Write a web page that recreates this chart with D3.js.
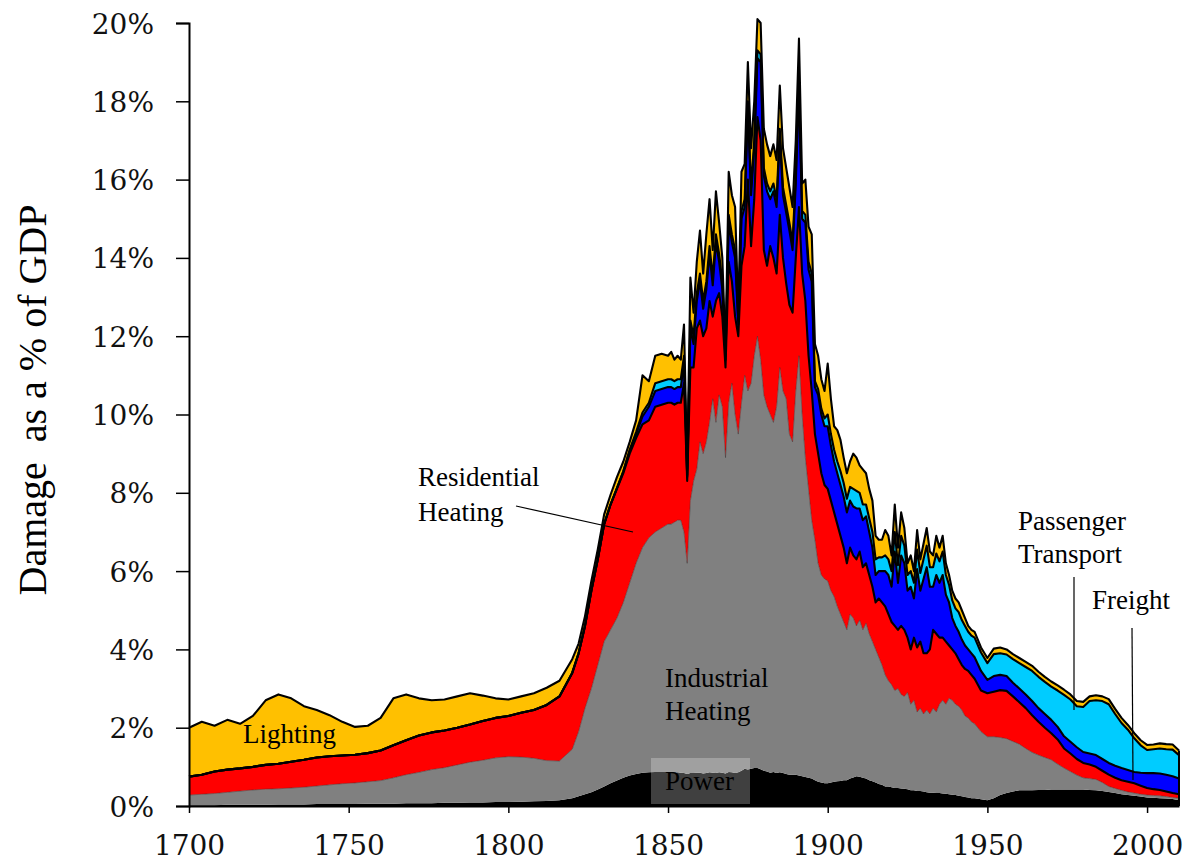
<!DOCTYPE html>
<html>
<head>
<meta charset="utf-8">
<script src="https://cdn.jsdelivr.net/npm/d3@7"></script>
<style>
  body { margin: 0; background: #fff; }
</style>
</head>
<body>
<svg id="chart" width="1188" height="863"></svg>
<script>
// years (coarser where the curve is smooth)
const years = [
  1700,1704,1708,1712,1716,1720,1724,1728,1732,1736,1740,1744,1748,1752,1756,1760,
  1764,1768,1772,1776,1780,1784,1788,1792,1796,1800,1804,1808,1812,1816,1820,
  1822,1824,1826,1828,1830,1832,1834,1836,1838,1840,1842,1844,1846,1848,
  1850,1851,1852,1853,1854,1855,1856,1857,1858,1859,
  1860,1861,1862,1863,1864,1865,1866,1867,1868,1869,
  1870,1871,1872,1873,1874,1875,1876,1877,1878,1879,
  1880,1881,1882,1883,1884,1885,1886,1887,1888,1889,
  1890,1891,1892,1893,1894,1895,1896,1897,1898,1899,
  1900,1901,1902,1903,1904,1905,1906,1907,1908,1909,
  1910,1911,1912,1913,1914,1915,1916,1917,1918,1919,
  1920,1921,1922,1923,1924,1925,1926,1927,1928,1929,
  1930,1931,1932,1933,1934,1935,1936,1937,1938,1939,
  1940,1941,1942,1943,1944,1945,
  1946,1948,1950,1952,1954,1956,1958,1960,1962,1964,1966,1968,1970,1972,1974,1976,
  1978,1980,1982,1984,1986,1988,1990,1992,1994,1996,1998,2000,2002,2004,2006,2008,2010
];

// damage by sector, % of GDP
const power = [
  .02,.02,.02,.03,.03,.03,.03,.04,.04,.04,.05,.05,.05,.05,.06,.06,
  .06,.07,.07,.07,.08,.08,.09,.09,.10,.10,.11,.12,.13,.15,.20,
  .25,.30,.35,.42,.50,.58,.65,.72,.78,.82,.85,.86,.87,.87,
  .87,.86,.85,.86,.85,.84,.82,.84,.84,.85,
  .85,.83,.84,.86,.85,.84,.86,.85,.83,.87,
  .86,.84,.86,.90,.95,.93,.95,.97,.97,.94,
  .90,.88,.85,.87,.84,.86,.84,.82,.80,.80,
  .80,.78,.76,.74,.72,.70,.66,.62,.60,.58,
  .58,.60,.62,.63,.64,.66,.66,.70,.73,.76,
  .75,.72,.70,.66,.63,.60,.56,.54,.50,.50,
  .48,.46,.46,.45,.44,.43,.40,.40,.38,.38,
  .37,.35,.34,.34,.33,.33,.32,.31,.30,.29,
  .28,.26,.25,.23,.22,.20,
  .20,.17,.15,.20,.28,.33,.37,.40,.40,.40,.41,.41,.42,.42,.42,.42,
  .42,.42,.41,.40,.38,.36,.33,.30,.28,.26,.24,.22,.21,.20,.19,.18,.15
];
const industrial = [
  .26,.28,.30,.32,.35,.38,.40,.40,.42,.44,.46,.49,.52,.54,.56,.59,
  .66,.73,.79,.86,.90,.97,1.03,1.08,1.13,1.16,1.14,1.10,1.03,1.00,1.25,
  1.65,2.20,2.65,3.18,3.70,3.92,4.15,4.48,4.92,5.38,5.75,5.99,6.13,6.23,
  6.33,6.34,6.40,6.44,6.45,6.16,5.38,6.96,7.46,7.75,
  8.45,8.17,8.46,8.94,9.55,8.96,9.64,9.35,8.07,9.43,
  9.94,9.16,8.64,9.40,10.05,9.67,9.85,10.53,11.03,10.46,
  9.60,9.32,9.15,8.93,9.36,10.34,9.76,9.58,8.70,8.50,
  9.80,10.72,9.24,8.16,7.38,6.60,6.14,5.58,5.30,5.22,
  5.17,4.90,4.73,4.47,4.26,4.04,3.84,4.20,4.07,3.84,
  4.00,3.78,3.97,3.74,3.57,3.40,3.24,3.06,2.85,2.70,
  2.62,2.49,2.54,2.40,2.36,2.47,2.20,2.30,2.02,2.12,
  1.98,2.10,2.01,2.16,2.07,2.27,2.38,2.29,2.45,2.41,
  2.32,2.29,2.20,2.07,2.03,1.95,
  1.90,1.73,1.62,1.57,1.47,1.39,1.28,1.18,1.07,.97,.89,.83,.76,.65,.55,.46,
  .37,.30,.29,.28,.22,.14,.12,.10,.08,.07,.06,.06,.06,.06,.05,.04,.05
];
const residential = [
  .47,.50,.56,.58,.58,.59,.62,.64,.67,.70,.73,.73,.72,.72,.73,.77,
  .83,.88,.94,.95,.95,.95,.96,1.00,1.02,1.04,1.13,1.23,1.42,1.65,1.95,
  2.0,2.1,2.5,2.7,3.0,3.2,3.3,3.3,3.3,3.2,3.15,3.0,3.2,3.15,
  3.1,3.1,3.0,3.0,3.0,3.8,2.1,3.4,2.9,3.6,
  3.1,3.0,2.9,3.1,2.1,3.1,2.6,2.3,2.3,3.6,
  2.6,2.5,2.5,3.5,3.3,5.4,3.5,4.0,5.6,5.6,
  3.7,3.6,4.3,4.2,3.4,3.9,3.4,2.95,3.3,3.3,
  3.4,3.8,3.6,4.0,3.4,3.3,2.7,2.8,2.6,2.4,
  2.35,2.3,2.15,2.1,2.0,1.9,1.7,1.7,1.6,1.7,
  1.75,1.6,1.53,1.5,1.4,1.2,1.5,1.6,1.75,1.7,
  1.6,1.65,1.5,1.75,1.7,1.4,1.4,1.6,1.65,1.7,
  1.55,1.45,1.65,2.0,2.0,1.7,1.6,1.6,1.35,1.3,
  1.3,1.2,1.15,1.2,1.2,1.2,
  1.15,1.05,1.11,1.15,1.21,1.22,1.15,1.07,1.03,.95,.85,.76,.68,.63,.50,.46,
  .41,.38,.36,.32,.30,.30,.27,.26,.26,.25,.22,.18,.16,.15,.13,.11,.10
];
const freight = [
  0,0,0,0,0,0,0,0,0,0,0,0,0,0,0,0,
  0,0,0,0,0,0,0,0,0,0,0,0,0,0,0,
  0,0,0,0,0,0,.02,.05,.08,.1,.2,.35,.4,.4,
  .4,.4,.4,.4,.4,.5,.1,1.0,.6,.7,
  1.0,.7,1.0,1.2,.8,1.5,.8,.7,.2,1.0,
  1.0,1.5,.3,1.2,1.0,1.8,1.3,1.3,1.5,2.0,
  1.9,1.9,1.2,1.7,1.7,2.0,1.6,1.8,1.9,1.6,
  1.9,3.0,1.4,2.0,2.2,2.8,1.2,1.5,1.5,1.5,
  1.6,1.4,1.3,1.3,1.3,1.3,1.3,1.2,1.25,1.3,
  1.1,1.2,1.2,1.1,1.0,.7,.7,.8,.9,1.0,
  .9,1.9,1.2,1.8,1.7,1.2,1.6,1.0,2.0,1.3,
  1.9,2.2,1.6,1.1,1.5,1.4,1.6,1.2,1.1,.8,
  .7,.7,.65,.6,.55,.55,
  .55,.5,.34,.4,.39,.38,.35,.35,.35,.36,.35,.35,.34,.32,.31,.3,
  .3,.28,.28,.3,.3,.3,.31,.31,.3,.29,.33,.38,.41,.42,.43,.43,.4
];
const passenger = [
  0,0,0,0,0,0,0,0,0,0,0,0,0,0,0,0,
  0,0,0,0,0,0,0,0,0,0,0,0,0,0,0,
  0,0,0,0,0,0,0,0,.02,.05,.1,.1,.2,.2,
  .2,.2,.2,.2,.2,.2,.05,.2,.2,.2,
  .2,.2,.2,.2,.2,.2,.2,.2,.1,.2,
  .2,.2,.1,.2,.2,.2,.2,.2,.2,.2,
  .2,.2,.2,.2,.2,.2,.2,.2,.2,.2,
  .2,.3,.2,.2,.2,.2,.15,.15,.15,.2,
  .3,.3,.3,.3,.35,.35,.35,.35,.45,.45,
  .4,.4,.3,.35,.4,.4,.35,.35,.4,.4,
  .4,.5,.45,.5,.45,.4,.4,.4,.5,.45,
  .5,.55,.5,.5,.55,.55,.6,.5,.45,.45,
  .45,.5,.5,.5,.45,.45,
  .5,.47,.43,.56,.55,.55,.6,.65,.7,.77,.8,.82,.85,.93,1.06,1.08,
  1.05,1.15,1.34,1.4,1.48,1.5,1.32,1.15,1.03,.86,.7,.59,.61,.64,.65,.68,.6
];
const lighting = [
  1.25,1.35,1.17,1.27,1.14,1.30,1.65,1.77,1.62,1.37,1.21,1.05,.86,.71,.70,.83,
  1.20,1.17,.95,.82,.79,.80,.80,.65,.50,.42,.42,.43,.44,.40,.35,
  .25,.25,.25,.25,.25,.25,.28,.25,.2,.3,.95,.55,.7,.7,
  .6,.7,.55,.6,.5,.8,.15,1.1,.6,.8,
  1.1,.7,1.2,1.2,.7,1.1,.8,.6,.1,1.1,
  1.0,1.1,.2,1.0,.9,1.0,1.0,1.0,.8,.8,
  1.0,1.0,.9,1.0,1.0,1.1,1.0,.95,.9,.9,
  .9,1.0,.7,.9,.9,1.0,.95,.85,.75,.7,
  1.3,.9,.6,.8,.8,.65,.65,.65,.9,.85,
  .7,.9,.8,.75,.8,.6,.45,.45,.65,.6,
  .4,.7,.45,.6,.45,.3,.4,.3,.5,.35,
  .4,.45,.4,.3,.45,.35,.4,.3,.25,.25,
  .25,.25,.25,.2,.15,.15,
  .15,.13,.13,.14,.15,.13,.13,.13,.13,.13,.13,.13,.13,.13,.13,.13,
  .13,.13,.12,.13,.12,.13,.13,.13,.12,.13,.13,.13,.12,.13,.13,.13,.12
];

const sectors = ["Power", "Industrial Heating", "Residential Heating", "Freight", "Passenger Transport", "Lighting"];
const colors = ["#000000", "#808080", "#ff0000", "#0000ff", "#00ccff", "#ffc000"];
const yTicks = [0, 2, 4, 6, 8, 10, 12, 14, 16, 18, 20];
const xTicks = [1700, 1750, 1800, 1850, 1900, 1950, 2000];

const serif = "'Liberation Serif', 'Times New Roman', Times, serif";

const svg = d3.select("#chart");

const x = d3.scaleLinear().domain([1700, 2010]).range([189, 1179]);
const y = d3.scaleLinear().domain([0, 20]).range([806, 23]);

const series = [power, industrial, residential, freight, passenger, lighting];
const rows = years.map(function(yr, i) {
  const r = {year: yr};
  sectors.forEach(function(s, k) { r[s] = series[k][i]; });
  return r;
});

const stacked = d3.stack().keys(sectors)(rows);

const area = d3.area()
  .x(function(d) { return x(d.data.year); })
  .y0(function(d) { return y(d[0]); })
  .y1(function(d) { return y(d[1]); });

const topLine = d3.line()
  .x(function(d) { return x(d.data.year); })
  .y(function(d) { return y(d[1]); });

svg.append("g")
  .selectAll("path")
  .data(stacked)
  .enter()
  .append("path")
  .attr("d", area)
  .attr("fill", function(d, i) { return colors[i]; });

// outlines on the upper edge of each band
svg.append("g")
  .selectAll("path")
  .data(stacked.slice(1))
  .enter()
  .append("path")
  .attr("d", topLine)
  .attr("fill", "none")
  .attr("stroke", function(d, i) { return i === 0 ? "#333" : "#000"; })
  .attr("stroke-opacity", function(d, i) { return i === 0 ? 0.5 : 1; })
  .attr("stroke-width", function(d, i) { return i === 0 ? 1 : 2.1; })
  .attr("stroke-linejoin", "round");

// closing edge at the right end of the stack
const last = stacked[stacked.length - 1][years.length - 1];
svg.append("line")
  .attr("x1", x(2010)).attr("x2", x(2010))
  .attr("y1", y(0)).attr("y2", y(last[1]))
  .attr("stroke", "#000").attr("stroke-width", 2);

// axes
const yAxis = svg.append("g")
  .attr("transform", "translate(189,0)")
  .call(d3.axisLeft(y).tickValues(yTicks).tickFormat(function(d) { return d + "%"; })
    .tickSize(13).tickPadding(22));

const xAxis = svg.append("g")
  .attr("transform", "translate(0,806)")
  .call(d3.axisBottom(x).tickValues(xTicks).tickFormat(d3.format("d"))
    .tickSize(7).tickSizeOuter(0));

[yAxis, xAxis].forEach(function(g) {
  g.select(".domain").attr("stroke", "#000").attr("stroke-width", 2);
  g.selectAll(".tick line").attr("stroke", "#000").attr("stroke-width", 1.5);
  g.selectAll(".tick text")
    .style("font-family", "'DejaVu Serif', serif")
    .style("font-size", "28px")
    .attr("fill", "#111");
});
yAxis.selectAll(".tick text").attr("dy", "0.36em");
xAxis.selectAll(".tick text").attr("y", 49).attr("dy", 0);

svg.append("text")
  .attr("transform", "translate(46,400) rotate(-90)")
  .attr("text-anchor", "middle")
  .style("font-family", serif)
  .style("font-size", "40px")
  .attr("xml:space", "preserve")
  .text("Damage  as a % of GDP");

// annotations
const notes = svg.append("g");

function note(tx, ty, label) {
  notes.append("text").attr("x", tx).attr("y", ty)
    .style("font-family", serif).style("font-size", "27px")
    .attr("fill", "#000").text(label);
}
function pointer(x1, y1, x2, y2) {
  notes.append("line").attr("x1", x1).attr("y1", y1).attr("x2", x2).attr("y2", y2)
    .attr("stroke", "#000").attr("stroke-width", 1.2);
}

note(243, 743, "Lighting");
note(418, 486, "Residential");
note(418, 521, "Heating");
pointer(516, 506, 633, 532);

note(665, 687, "Industrial");
note(665, 720, "Heating");

notes.append("rect").attr("x", 651).attr("y", 758).attr("width", 99).attr("height", 46)
  .attr("fill", "#fff").attr("fill-opacity", 0.25);
note(665, 790, "Power");

note(1018, 530, "Passenger");
note(1018, 563, "Transport");
pointer(1074, 577, 1074, 710);

note(1092, 609, "Freight");
pointer(1132, 628, 1133, 780);
</script>
</body>
</html>
